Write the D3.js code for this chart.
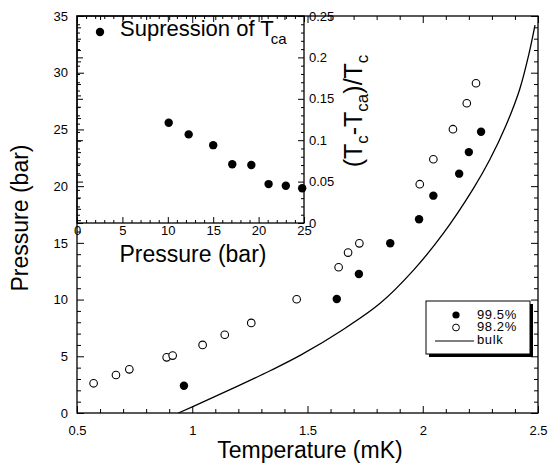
<!DOCTYPE html>
<html>
<head>
<meta charset="utf-8">
<script src="https://cdn.jsdelivr.net/npm/d3@7"></script>
<style>
  body { margin: 0; background: #fff; }
  svg { font-family: "Liberation Sans", Arial, sans-serif; }
  .tick text { font-size: 13px; fill: #000; }
  .tick line { stroke: #000; stroke-width: 1; }
</style>
</head>
<body>
<svg id="chart" width="550" height="470"></svg>
<script>
// 99.5% (filled) and 98.2% (open) samples: temperature (mK) vs pressure (bar)
const tempFilled = [0.964, 1.627, 1.723, 1.859, 1.984, 2.046, 2.158, 2.200, 2.253];
const presFilled = [2.4, 10.05, 12.26, 14.96, 17.08, 19.16, 21.1, 23.0, 24.8];

const tempOpen = [0.572, 0.669, 0.727, 0.889, 0.915, 1.045, 1.141, 1.256, 1.453,
  1.635, 1.676, 1.725, 1.987, 2.046, 2.131, 2.191, 2.231];
const presOpen = [2.62, 3.35, 3.85, 4.91, 5.06, 6.0, 6.9, 7.94, 10.03,
  12.85, 14.14, 14.96, 20.17, 22.37, 25.02, 27.31, 29.07];

// bulk transition line
const bulkT = [0.94, 1.05, 1.19, 1.34, 1.47, 1.65, 1.815, 1.96, 2.09, 2.22, 2.29, 2.36, 2.42, 2.46, 2.487];
const bulkP = [0, 1.0, 2.3, 3.75, 5.1, 7.3, 9.67, 12.6, 15.85, 19.8, 22.3, 25.3, 28.5, 31.6, 34.2];

// inset: suppression of Tca vs pressure
const insetPres = [10.1, 12.3, 15.0, 17.1, 19.2, 21.1, 23.0, 24.8];
const insetSup = [0.121, 0.107, 0.094, 0.071, 0.070, 0.047, 0.045, 0.042];

// tick labels
const mainXTicks = [0.5, 1, 1.5, 2, 2.5];
const mainYTicks = [0, 5, 10, 15, 20, 25, 30, 35];
const insetXTicks = [0, 5, 10, 15, 20, 25];
const insetYTicks = [0, 0.05, 0.1, 0.15, 0.2, 0.25];

const legendLabels = ['99.5%', '98.2%', 'bulk'];

const frame = { left: 77, top: 16, right: 538, bottom: 413 };
const inset = { left: 77, top: 16, right: 304, bottom: 223 };

const svg = d3.select('#chart');

const x = d3.scaleLinear().domain([0.5, 2.5]).range([frame.left, frame.right]);
const y = d3.scaleLinear().domain([0, 35]).range([frame.bottom, frame.top]);
const ix = d3.scaleLinear().domain([0, 25]).range([inset.left, inset.right]);
const iy = d3.scaleLinear().domain([0, 0.25]).range([inset.bottom, inset.top]);

const fmt = d => String(+d.toFixed(2));

const minorMainX = d3.range(5, 26).filter(v => v % 5 !== 0).map(v => v / 10);
const minorMainY = d3.range(0, 36).filter(v => v % 5 !== 0);
const minorInsetX = d3.range(0, 26).filter(v => v % 5 !== 0);
const minorInsetY = d3.range(0, 26).filter(v => v % 5 !== 0).map(v => v / 100);

const drawAxis = (gen, pos, values, size, labels, pad) => {
  const g = svg.append('g')
    .attr('transform', pos)
    .call(gen.tickValues(values).tickSize(size).tickPadding(pad || 3)
      .tickFormat(labels ? fmt : ''));
  g.select('.domain').remove();
  return g;
};

// bulk line
const line = d3.line()
  .x((d, i) => x(bulkT[i]))
  .y((d, i) => y(bulkP[i]))
  .curve(d3.curveCatmullRom.alpha(0.5));

svg.append('path')
  .datum(bulkT)
  .attr('d', line)
  .attr('fill', 'none')
  .attr('stroke', '#000')
  .attr('stroke-width', 1.3);

svg.append('g')
  .selectAll('circle')
  .data(tempOpen)
  .join('circle')
  .attr('cx', d => x(d))
  .attr('cy', (d, i) => y(presOpen[i]))
  .attr('r', 3.8)
  .attr('fill', '#fff')
  .attr('stroke', '#000')
  .attr('stroke-width', 1.1);

svg.append('g')
  .selectAll('circle')
  .data(tempFilled)
  .join('circle')
  .attr('cx', d => x(d))
  .attr('cy', (d, i) => y(presFilled[i]))
  .attr('r', 4.2)
  .attr('fill', '#000');

// main axes, ticks pointing inward
drawAxis(d3.axisLeft(y), `translate(${frame.left},0)`, mainYTicks, -7, true, 9);
drawAxis(d3.axisLeft(y), `translate(${frame.left},0)`, minorMainY, -4, false);
drawAxis(d3.axisRight(y), `translate(${frame.right},0)`, mainYTicks, -7, false);
drawAxis(d3.axisRight(y), `translate(${frame.right},0)`, minorMainY, -4, false);
drawAxis(d3.axisBottom(x), `translate(0,${frame.bottom})`, mainXTicks, -7, true, 13);
drawAxis(d3.axisBottom(x), `translate(0,${frame.bottom})`, minorMainX, -4, false);
drawAxis(d3.axisTop(x), `translate(0,${frame.top})`, mainXTicks, -7, false);
drawAxis(d3.axisTop(x), `translate(0,${frame.top})`, minorMainX, -4, false);

svg.append('rect')
  .attr('x', frame.left)
  .attr('y', frame.top)
  .attr('width', frame.right - frame.left)
  .attr('height', frame.bottom - frame.top)
  .attr('fill', 'none')
  .attr('stroke', '#000')
  .attr('stroke-width', 1.3);

// inset
svg.append('rect')
  .attr('x', inset.left)
  .attr('y', inset.top)
  .attr('width', inset.right - inset.left)
  .attr('height', inset.bottom - inset.top)
  .attr('fill', 'none')
  .attr('stroke', '#000')
  .attr('stroke-width', 1.3);

drawAxis(d3.axisBottom(ix), `translate(0,${inset.bottom})`, insetXTicks, -6, true, 3);
drawAxis(d3.axisBottom(ix), `translate(0,${inset.bottom})`, minorInsetX, -3, false);
drawAxis(d3.axisTop(ix), `translate(0,${inset.top})`, insetXTicks, -6, false);
drawAxis(d3.axisTop(ix), `translate(0,${inset.top})`, minorInsetX, -3, false);
drawAxis(d3.axisRight(iy), `translate(${inset.right},0)`, insetYTicks, -6, true, 5);
drawAxis(d3.axisRight(iy), `translate(${inset.right},0)`, minorInsetY, -3, false);
drawAxis(d3.axisLeft(iy), `translate(${inset.left},0)`, insetYTicks, -6, false);
drawAxis(d3.axisLeft(iy), `translate(${inset.left},0)`, minorInsetY, -3, false);

svg.append('g')
  .selectAll('circle')
  .data(insetPres)
  .join('circle')
  .attr('cx', d => ix(d))
  .attr('cy', (d, i) => iy(insetSup[i]))
  .attr('r', 4.2)
  .attr('fill', '#000');

// inset legend
svg.append('circle').attr('cx', 100).attr('cy', 32).attr('r', 4.2).attr('fill', '#000');
const supText = svg.append('text')
  .attr('x', 120)
  .attr('y', 35.5)
  .attr('font-size', 22);
supText.append('tspan').text('Supression of T');
supText.append('tspan').attr('font-size', 15).attr('dx', -3).attr('dy', 8).text('ca');

// axis titles
svg.append('text')
  .attr('x', 310)
  .attr('y', 458)
  .attr('text-anchor', 'middle')
  .attr('font-size', 23)
  .text('Temperature (mK)');

svg.append('text')
  .attr('transform', 'translate(28,218) rotate(-90)')
  .attr('text-anchor', 'middle')
  .attr('font-size', 23)
  .text('Pressure (bar)');

svg.append('text')
  .attr('x', 193)
  .attr('y', 262)
  .attr('text-anchor', 'middle')
  .attr('font-size', 23)
  .text('Pressure (bar)');

const ratio = svg.append('text')
  .attr('transform', 'translate(362,111) rotate(-90)')
  .attr('text-anchor', 'middle')
  .attr('font-size', 25);
ratio.append('tspan').text('(T');
ratio.append('tspan').attr('font-size', 17).attr('dy', 6).text('c');
ratio.append('tspan').attr('dy', -6).text('-T');
ratio.append('tspan').attr('font-size', 17).attr('dy', 6).text('ca');
ratio.append('tspan').attr('dy', -6).text(')/T');
ratio.append('tspan').attr('font-size', 17).attr('dy', 6).text('c');

// legend box with drop shadow
const lg = svg.append('g').attr('transform', 'translate(426,301)');
lg.append('rect').attr('x', 3).attr('y', 3).attr('width', 104).attr('height', 53).attr('fill', '#000');
lg.append('rect').attr('width', 104).attr('height', 53)
  .attr('fill', '#fff').attr('stroke', '#000').attr('stroke-width', 1);
lg.append('circle').attr('cx', 30).attr('cy', 14).attr('r', 3.6).attr('fill', '#000');
lg.append('circle').attr('cx', 30).attr('cy', 26.5).attr('r', 3.4)
  .attr('fill', '#fff').attr('stroke', '#000').attr('stroke-width', 1);
lg.append('line').attr('x1', 9).attr('x2', 48).attr('y1', 40).attr('y2', 40)
  .attr('stroke', '#000').attr('stroke-width', 1.2);
lg.selectAll('text.lab')
  .data(legendLabels)
  .join('text')
  .attr('class', 'lab')
  .attr('x', 51)
  .attr('y', (d, i) => 17.5 + i * 12.5)
  .attr('font-size', 13)
  .attr('letter-spacing', 0.6)
  .text(d => d);
</script>
</body>
</html>
